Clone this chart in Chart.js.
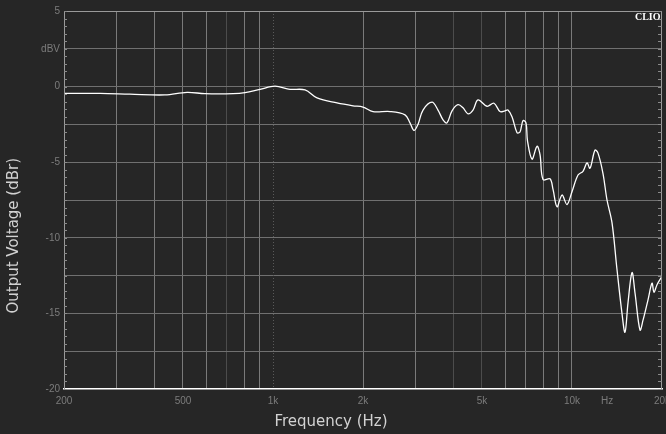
<!DOCTYPE html>
<html>
<head>
<meta charset="utf-8">
<script src="https://cdn.jsdelivr.net/npm/chart.js@4/dist/chart.umd.min.js"></script>
<style>
    html, body { margin: 0; padding: 0; background: #262626; }
</style>
</head>
<body>
<canvas id="responseChart" width="666" height="434"></canvas>
<script>
// frequency response (Hz / dBr)
const freqs = [200, 264, 332, 435, 516, 592, 735, 806, 905, 1016, 1140, 1280, 1404, 1637, 1852, 2000,
    2160, 2462, 2764, 2872, 2962, 3054, 3175, 3403, 3563, 3704, 3819, 3970, 4157, 4320, 4490, 4666,
    4849, 5196, 5484, 5744, 5969, 6108, 6300, 6549, 6700, 6857, 7018, 7100, 7350, 7638, 7817, 8000,
    8443, 8641, 8911, 9261, 9623, 10000, 10474, 10884, 11225, 11487, 11937, 12218, 12697, 13095,
    13608, 14142, 14697, 15042, 15393, 15877, 16247, 16884, 17281, 17959, 18520, 18803, 19248, 20000];
const levels = [-0.45, -0.45, -0.5, -0.55, -0.38, -0.47, -0.47, -0.4, -0.18, 0.03, -0.18, -0.22, -0.75, -1.08, -1.27, -1.35,
    -1.66, -1.65, -1.87, -2.4, -2.9, -2.5, -1.55, -1.03, -1.55, -2.2, -2.4, -1.6, -1.2, -1.4, -1.8, -1.55,
    -0.88, -1.3, -1.1, -1.65, -1.6, -1.55, -2.0, -3.05, -3.0, -2.25, -2.4, -3.6, -4.8, -3.95, -4.5, -6.15,
    -6.1, -6.8, -7.95, -7.17, -7.8, -6.95, -5.85, -5.6, -5.05, -5.4, -4.2, -4.4, -5.75, -7.5,
    -9.0, -12.1, -15.0, -16.25, -14.3, -12.3, -13.65, -16.1, -15.45, -14.1, -13.0, -13.6, -13.1, -12.55];

const xTickValues = [200, 300, 400, 500, 600, 700, 800, 900, 1000, 2000, 3000, 4000, 5000, 6000, 7000, 8000, 9000, 10000, 13100, 20000];
const xTickLabels = { 200: "200", 500: "500", 1000: "1k", 2000: "2k", 5000: "5k", 10000: "10k", 13100: "Hz", 20000: "20k" };
const xDimLines = [700, 4000, 5000];
const xNoLines = [200, 1000, 13100, 20000];

const yTickValues = [-20, -17.5, -15, -12.5, -10, -7.5, -5, -2.5, 0, 2.5, 5];
const yTickLabels = { "5": "5", "2.5": "dBV", "0": "0", "-5": "-5", "-10": "-10", "-15": "-15", "-20": "-20" };

const labelFont = { family: "'Liberation Sans', sans-serif", size: 10 };
const titleFont = { family: "'DejaVu Sans', sans-serif", size: 15 };

// frame, inward minor ticks, dotted 1k line and the CLIO mark
const framePlugin = {
    id: "frame",
    beforeDatasetsDraw(chart) {
        const ctx = chart.ctx;
        const area = chart.chartArea;
        const x = chart.scales.x.getPixelForValue(1000);
        ctx.save();
        ctx.strokeStyle = "#5a5a5a";
        ctx.lineWidth = 1;
        ctx.setLineDash([1, 2]);
        ctx.beginPath();
        ctx.moveTo(Math.round(x) + 0.5, area.top);
        ctx.lineTo(Math.round(x) + 0.5, area.bottom);
        ctx.stroke();
        ctx.restore();
    },
    afterDraw(chart) {
        const ctx = chart.ctx;
        const area = chart.chartArea;
        const yScale = chart.scales.y;
        ctx.save();
        ctx.strokeStyle = "#9a9a9a";
        ctx.lineWidth = 1;
        ctx.beginPath();
        ctx.moveTo(area.left + 0.5, area.bottom);
        ctx.lineTo(area.left + 0.5, area.top + 0.5);
        ctx.lineTo(area.right - 0.5, area.top + 0.5);
        ctx.lineTo(area.right - 0.5, area.bottom);
        ctx.stroke();

        ctx.strokeStyle = "#8a8a8a";
        ctx.beginPath();
        for (let v = -20; v <= 5; v += 0.5) {
            const py = Math.round(yScale.getPixelForValue(v)) + 0.5;
            ctx.moveTo(area.left, py);
            ctx.lineTo(area.left + 3, py);
            ctx.moveTo(area.right - 4, py);
            ctx.lineTo(area.right, py);
        }
        ctx.stroke();

        ctx.fillStyle = "#ffffff";
        ctx.font = "bold 10px 'Liberation Serif', serif";
        ctx.textAlign = "right";
        ctx.textBaseline = "alphabetic";
        ctx.fillText("CLIO", area.right - 1.5, area.top + 8.5);
        ctx.restore();
    }
};

const chart = new Chart(document.getElementById("responseChart").getContext("2d"), {
    type: "line",
    data: {
        datasets: [{
            data: freqs.map((f, i) => ({ x: f, y: levels[i] })),
            borderColor: "#ffffff",
            borderWidth: 1.3,
            pointRadius: 0,
            tension: 0.35,
            fill: false
        }]
    },
    options: {
        responsive: false,
        animation: false,
        devicePixelRatio: 1,
        layout: { padding: { top: 11, right: 4, left: 0, bottom: 0 } },
        plugins: {
            legend: { display: false },
            tooltip: { enabled: false },
            title: {
                display: true,
                position: "bottom",
                text: "Frequency (Hz)",
                color: "#d2d2d2",
                font: { ...titleFont, weight: "normal" },
                padding: { top: 0, bottom: 3 }
            }
        },
        scales: {
            x: {
                type: "logarithmic",
                min: 200,
                max: 20000,
                afterBuildTicks: (scale) => {
                    scale.ticks = xTickValues.map((v) => ({ value: v }));
                },
                afterFit: (scale) => {
                    scale.height = 24;
                    scale.paddingLeft = 0;
                    scale.paddingRight = 0;
                },
                ticks: {
                    autoSkip: false,
                    maxRotation: 0,
                    color: "#7c7c7c",
                    font: labelFont,
                    padding: 6,
                    callback: (value) => xTickLabels[value] || ""
                },
                grid: {
                    drawTicks: false,
                    lineWidth: 1,
                    color: (ctx) => {
                        const v = ctx.tick && ctx.tick.value;
                        if (xNoLines.includes(v)) return "rgba(0,0,0,0)";
                        if (xDimLines.includes(v)) return "#4c4c4c";
                        return "#7a7a7a";
                    }
                },
                border: { color: "#ffffff", width: 1.5 }
            },
            y: {
                min: -20,
                max: 5,
                afterBuildTicks: (scale) => {
                    scale.ticks = yTickValues.map((v) => ({ value: v }));
                },
                afterFit: (scale) => {
                    scale.width = 64;
                },
                ticks: {
                    autoSkip: false,
                    color: "#7c7c7c",
                    font: labelFont,
                    padding: 4,
                    callback: (value) => yTickLabels[String(value)] || ""
                },
                grid: {
                    drawTicks: false,
                    lineWidth: 1,
                    color: (ctx) => {
                        const v = ctx.tick && ctx.tick.value;
                        return (v === 5 || v === -20) ? "rgba(0,0,0,0)" : "#707070";
                    }
                },
                border: { color: "#9a9a9a", width: 1 },
                title: {
                    display: true,
                    text: "Output Voltage (dBr)" + "\u00a0".repeat(15),
                    color: "#d2d2d2",
                    font: titleFont,
                    padding: { top: 5, bottom: 0 }
                }
            }
        }
    },
    plugins: [framePlugin]
});
</script>
</body>
</html>
